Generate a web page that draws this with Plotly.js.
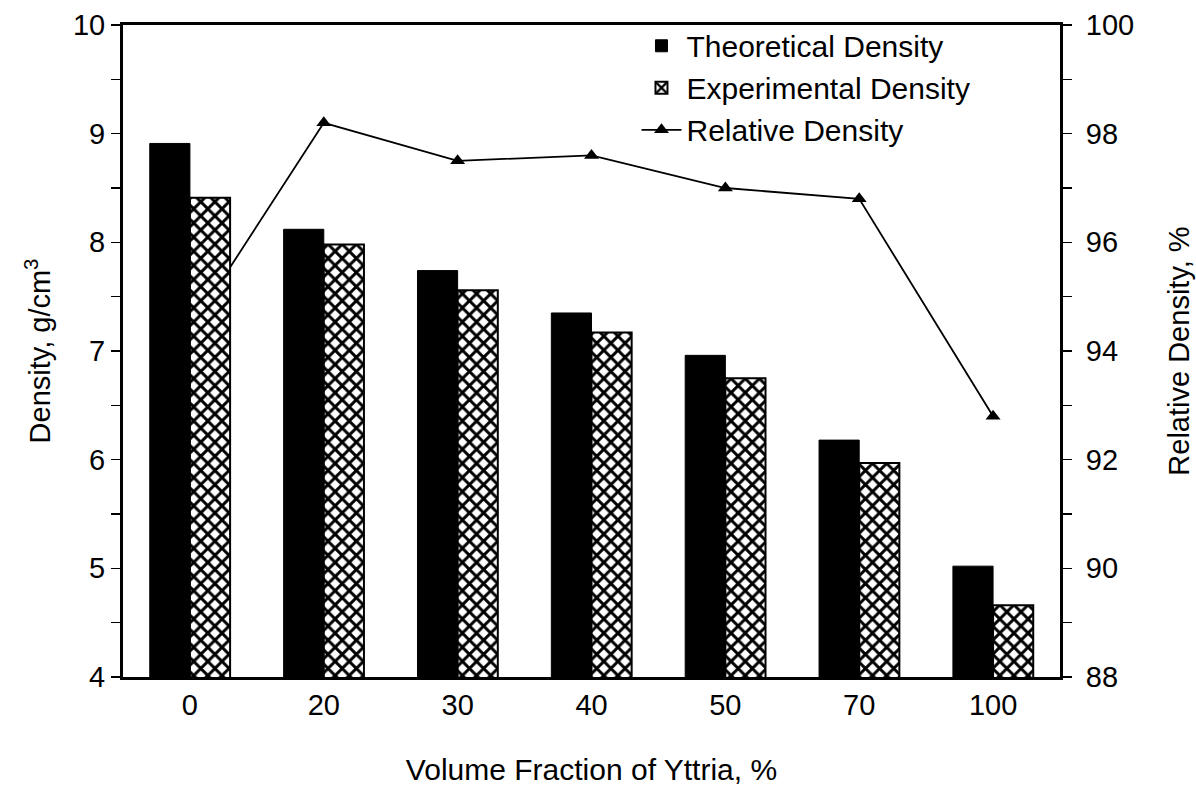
<!DOCTYPE html>
<html>
<head>
<meta charset="utf-8">
<script src="https://cdn.plot.ly/plotly-3.0.1.min.js"></script>
<style>html,body{margin:0;padding:0;background:#fff;}#chart{width:1196px;height:789px;}</style>
</head>
<body>
<div id="chart"></div>
<script>
var categories = ["0", "20", "30", "40", "50", "70", "100"];
var theoreticalDensity = [8.91, 8.12, 7.74, 7.35, 6.96, 6.18, 5.02];
var experimentalDensity = [8.41, 7.98, 7.56, 7.17, 6.75, 5.97, 4.66];
var relativeDensity = [94.4, 98.2, 97.5, 97.6, 97.0, 96.8, 92.8];

var font = "Liberation Sans, Arial, sans-serif";

var traces = [
  {
    type: "scatter", mode: "lines+markers", name: "Relative Density",
    x: categories, y: relativeDensity, xaxis: "x", yaxis: "y",
    line: {color: "#000", width: 1.8},
    marker: {symbol: "triangle-up", size: 13, color: "#000"},
    legendrank: 3
  },
  {
    type: "bar", name: "Theoretical Density",
    x: categories, y: theoreticalDensity, xaxis: "x", yaxis: "y2",
    marker: {color: "#000", line: {color: "#000", width: 1}},
    legendrank: 1
  },
  {
    type: "bar", name: "Experimental Density",
    x: categories, y: experimentalDensity, xaxis: "x", yaxis: "y2",
    marker: {color: "#fff", line: {color: "#000", width: 2},
      pattern: {shape: "x", fgcolor: "#000", bgcolor: "#fff", size: 10, solidity: 0.5, fillmode: "replace"}},
    legendrank: 2
  }
];

var layout = {
  width: 1196, height: 789,
  margin: {l: 123, r: 136, t: 25, b: 112},
  paper_bgcolor: "#fff", plot_bgcolor: "#fff",
  font: {family: font, color: "#000", size: 30},
  barmode: "group", bargap: 0.4, bargroupgap: 0,
  showlegend: true,
  legend: {x: 0.548, y: 1.008, xanchor: "left", yanchor: "top",
    bgcolor: "rgba(0,0,0,0)", font: {family: font, size: 30, color: "#000"},
    tracegroupgap: 0, itemwidth: 40},
  xaxis: {
    type: "category", showline: true, linewidth: 3, linecolor: "#000", mirror: true,
    ticks: "", showgrid: false, zeroline: false,
    tickfont: {family: font, size: 29}, ticklabelstandoff: 0,
    title: {text: "Volume Fraction of Yttria, %", font: {family: font, size: 30}, standoff: 40}
  },
  yaxis: {
    side: "right", range: [88, 100], dtick: 2, tick0: 88,
    showline: true, linewidth: 3, linecolor: "#000",
    ticks: "outside", ticklen: 9, tickwidth: 1.5, tickcolor: "#000",
    minor: {dtick: 1, ticks: "outside", ticklen: 9, tickwidth: 1.5, tickcolor: "#000"},
    showgrid: false, zeroline: false,
    tickfont: {family: font, size: 29}, ticklabelstandoff: 8,
    title: {text: "Relative Density, %", font: {family: font, size: 29}, standoff: 36}
  },
  yaxis2: {
    side: "left", overlaying: "y", range: [4, 10], dtick: 1, tick0: 4,
    showline: true, linewidth: 3, linecolor: "#000",
    ticks: "outside", ticklen: 9, tickwidth: 1.5, tickcolor: "#000",
    minor: {dtick: 0.5, ticks: "outside", ticklen: 9, tickwidth: 1.5, tickcolor: "#000"},
    showgrid: false, zeroline: false,
    tickfont: {family: font, size: 29}, ticklabelstandoff: 0,
    title: {text: "Density, g/cm<sup>3</sup>", font: {family: font, size: 29}, standoff: 14}
  }
};

Plotly.newPlot("chart", traces, layout, {displayModeBar: false, staticPlot: true});
</script>
</body>
</html>
